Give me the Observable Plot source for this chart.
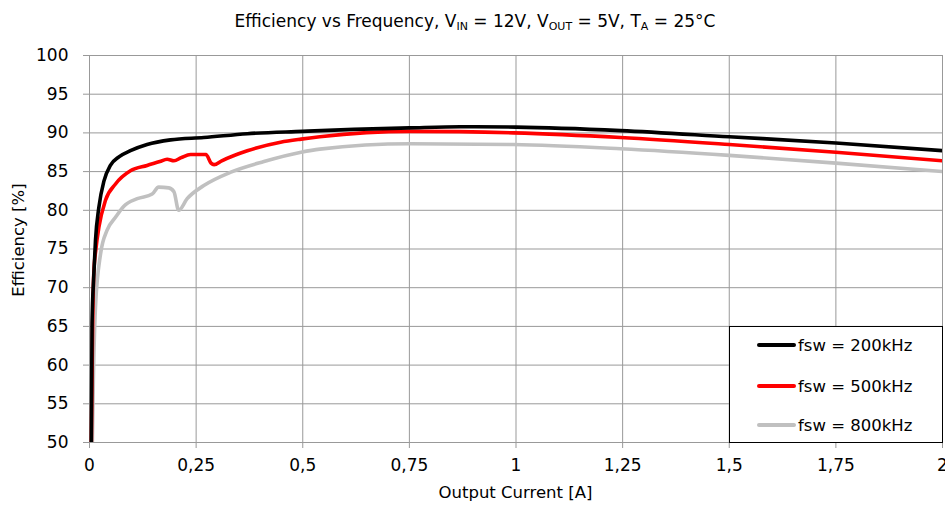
<!DOCTYPE html>
<html>
<head>
<meta charset="utf-8">
<script src="https://cdn.jsdelivr.net/npm/d3@7"></script>
<script src="https://cdn.jsdelivr.net/npm/@observablehq/plot@0.6"></script>
<style>
  html, body { margin: 0; padding: 0; background: #fff; overflow: hidden; }
  #wrap { position: relative; width: 945px; height: 505px; font-family: "DejaVu Sans", sans-serif; color: #000; }
  #title { position: absolute; left: 0; top: 6px; width: 950px; text-align: center; font-size: 17px; line-height: 30px; }
  #title sub { font-size: 11px; vertical-align: -3px; line-height: 0; }
  #chart { position: absolute; left: 0; top: 40px; }
  #chart svg text { fill: #000; }
  .axlabel { position: absolute; font-size: 16.5px; white-space: nowrap; }
  #xlabel { left: 0; width: 1031px; text-align: center; top: 483px; line-height: 20px; }
  #ylabel { left: 19px; top: 240px; transform: translate(-50%, -50%) rotate(-90deg); line-height: 20px; }
  #legend { position: absolute; left: 729px; top: 326px; width: 212px; height: 115px; border: 1px solid #000; background: #fff; }
  .item { position: absolute; left: 27px; height: 20px; display: flex; align-items: center; font-size: 16.5px; }
  .sw { width: 39px; height: 4px; border-radius: 2px; margin-right: 2px; }
</style>
</head>
<body>
<div id="wrap">
  <div id="title">Efficiency vs Frequency, V<sub>IN</sub> = 12V, V<sub>OUT</sub> = 5V, T<sub>A</sub> = 25°C</div>
  <div id="chart"></div>
  <div class="axlabel" id="xlabel">Output Current [A]</div>
  <div class="axlabel" id="ylabel">Efficiency [%]</div>
  <div id="legend"></div>
</div>
<script>
// ---- data ----
const seriesNames = ["fsw = 200kHz", "fsw = 500kHz", "fsw = 800kHz"];
const seriesColors = ["#000000", "#ff0000", "#c0c0c0"];

const current200 = [0.004, 0.006, 0.010, 0.014, 0.022, 0.034, 0.049, 0.069, 0.096, 0.135, 0.19, 0.268, 0.37, 0.50, 0.62, 0.75, 0.87, 1.0, 1.245, 1.5, 1.75, 2.0];
const eff200     = [48,    65.4,  71.5,  76.1,  80.4,  83.8,  85.8,  86.9,  87.7,  88.5,  89.1, 89.4,  89.9, 90.2, 90.45, 90.65, 90.8, 90.75, 90.3, 89.5, 88.7, 87.7];

const current500 = [0.004, 0.007, 0.010, 0.015, 0.022, 0.0375, 0.061, 0.096, 0.135, 0.165, 0.182, 0.198, 0.215, 0.237, 0.262, 0.273, 0.285, 0.292, 0.31, 0.37, 0.448, 0.496, 0.54, 0.753, 0.994, 1.245, 1.5, 1.75, 2.0];
const eff500     = [48,    64,    71.8,  75.0,  77.8,  81.3,   83.4,  85.1,  85.8,  86.3,  86.6,  86.4,  86.8,  87.2,  87.2,  87.2,  86.1,  85.9,  86.4, 87.7, 88.8,  89.2,  89.5, 90.2,  90.0,  89.4,  88.5, 87.5, 86.4];

const current800 = [0.006, 0.009, 0.014, 0.026, 0.041, 0.061, 0.08, 0.112, 0.147, 0.162, 0.186, 0.198, 0.209, 0.229, 0.268, 0.33, 0.409, 0.496, 0.54, 0.753, 0.994, 1.245, 1.5, 1.75, 2.0];
const eff800     = [48,    58,    67.5,  74.4,  77.4,  79.1,  80.5, 81.5,  82.1,  83.0,  82.9,  82.4,  80.0,  81.5,  83.2,  84.9, 86.3,  87.5,  87.9, 88.6,  88.5,  87.95, 87.1, 86.1, 85.0];

const xTicks = [0, 0.25, 0.5, 0.75, 1, 1.25, 1.5, 1.75, 2];
const yTicks = [50, 55, 60, 65, 70, 75, 80, 85, 90, 95, 100];

// ---- build table ----
const table = [];
[[current200, eff200], [current500, eff500], [current800, eff800]].forEach(([xs, ys], i) => {
  xs.forEach((x, j) => table.push({series: seriesNames[i], current: x, eff: ys[j]}));
});
const fmt = d => String(d).replace(".", ",");

const drawOrder = [seriesNames[2], seriesNames[1], seriesNames[0]];

const plot = Plot.plot({
  width: 945,
  height: 465,
  marginTop: 15,
  marginBottom: 63,
  marginLeft: 89,
  marginRight: 3,
  style: {fontFamily: "'DejaVu Sans', sans-serif", fontSize: "17px", color: "#999", background: "#fff", overflow: "visible"},
  x: {domain: [0, 2], ticks: xTicks, tickFormat: fmt, tickSize: 6, tickPadding: 10, label: null},
  y: {domain: [50, 100], ticks: yTicks, tickFormat: fmt, tickSize: 6, tickPadding: 15, label: null},
  color: {domain: seriesNames, range: seriesColors},
  marks: [
    Plot.ruleY(yTicks, {stroke: "#999", strokeWidth: 1}),
    Plot.ruleX(xTicks, {stroke: "#999", strokeWidth: 1}),
    ...drawOrder.map(name => Plot.line(table.filter(d => d.series === name), {
      x: "current", y: "eff", stroke: "series", strokeWidth: 3.6,
      curve: "monotone-x", clip: true, strokeLinejoin: "round", strokeLinecap: "butt"
    }))
  ]
});
document.getElementById("chart").appendChild(plot);

// ---- legend ----
const legend = document.getElementById("legend");
const rowTops = [8, 49, 88];
seriesNames.forEach((name, i) => {
  const item = document.createElement("div");
  item.className = "item";
  item.style.top = rowTops[i] + "px";
  const sw = document.createElement("span");
  sw.className = "sw";
  sw.style.background = seriesColors[i];
  const t = document.createElement("span");
  t.textContent = name;
  item.appendChild(sw);
  item.appendChild(t);
  legend.appendChild(item);
});
</script>
</body>
</html>
